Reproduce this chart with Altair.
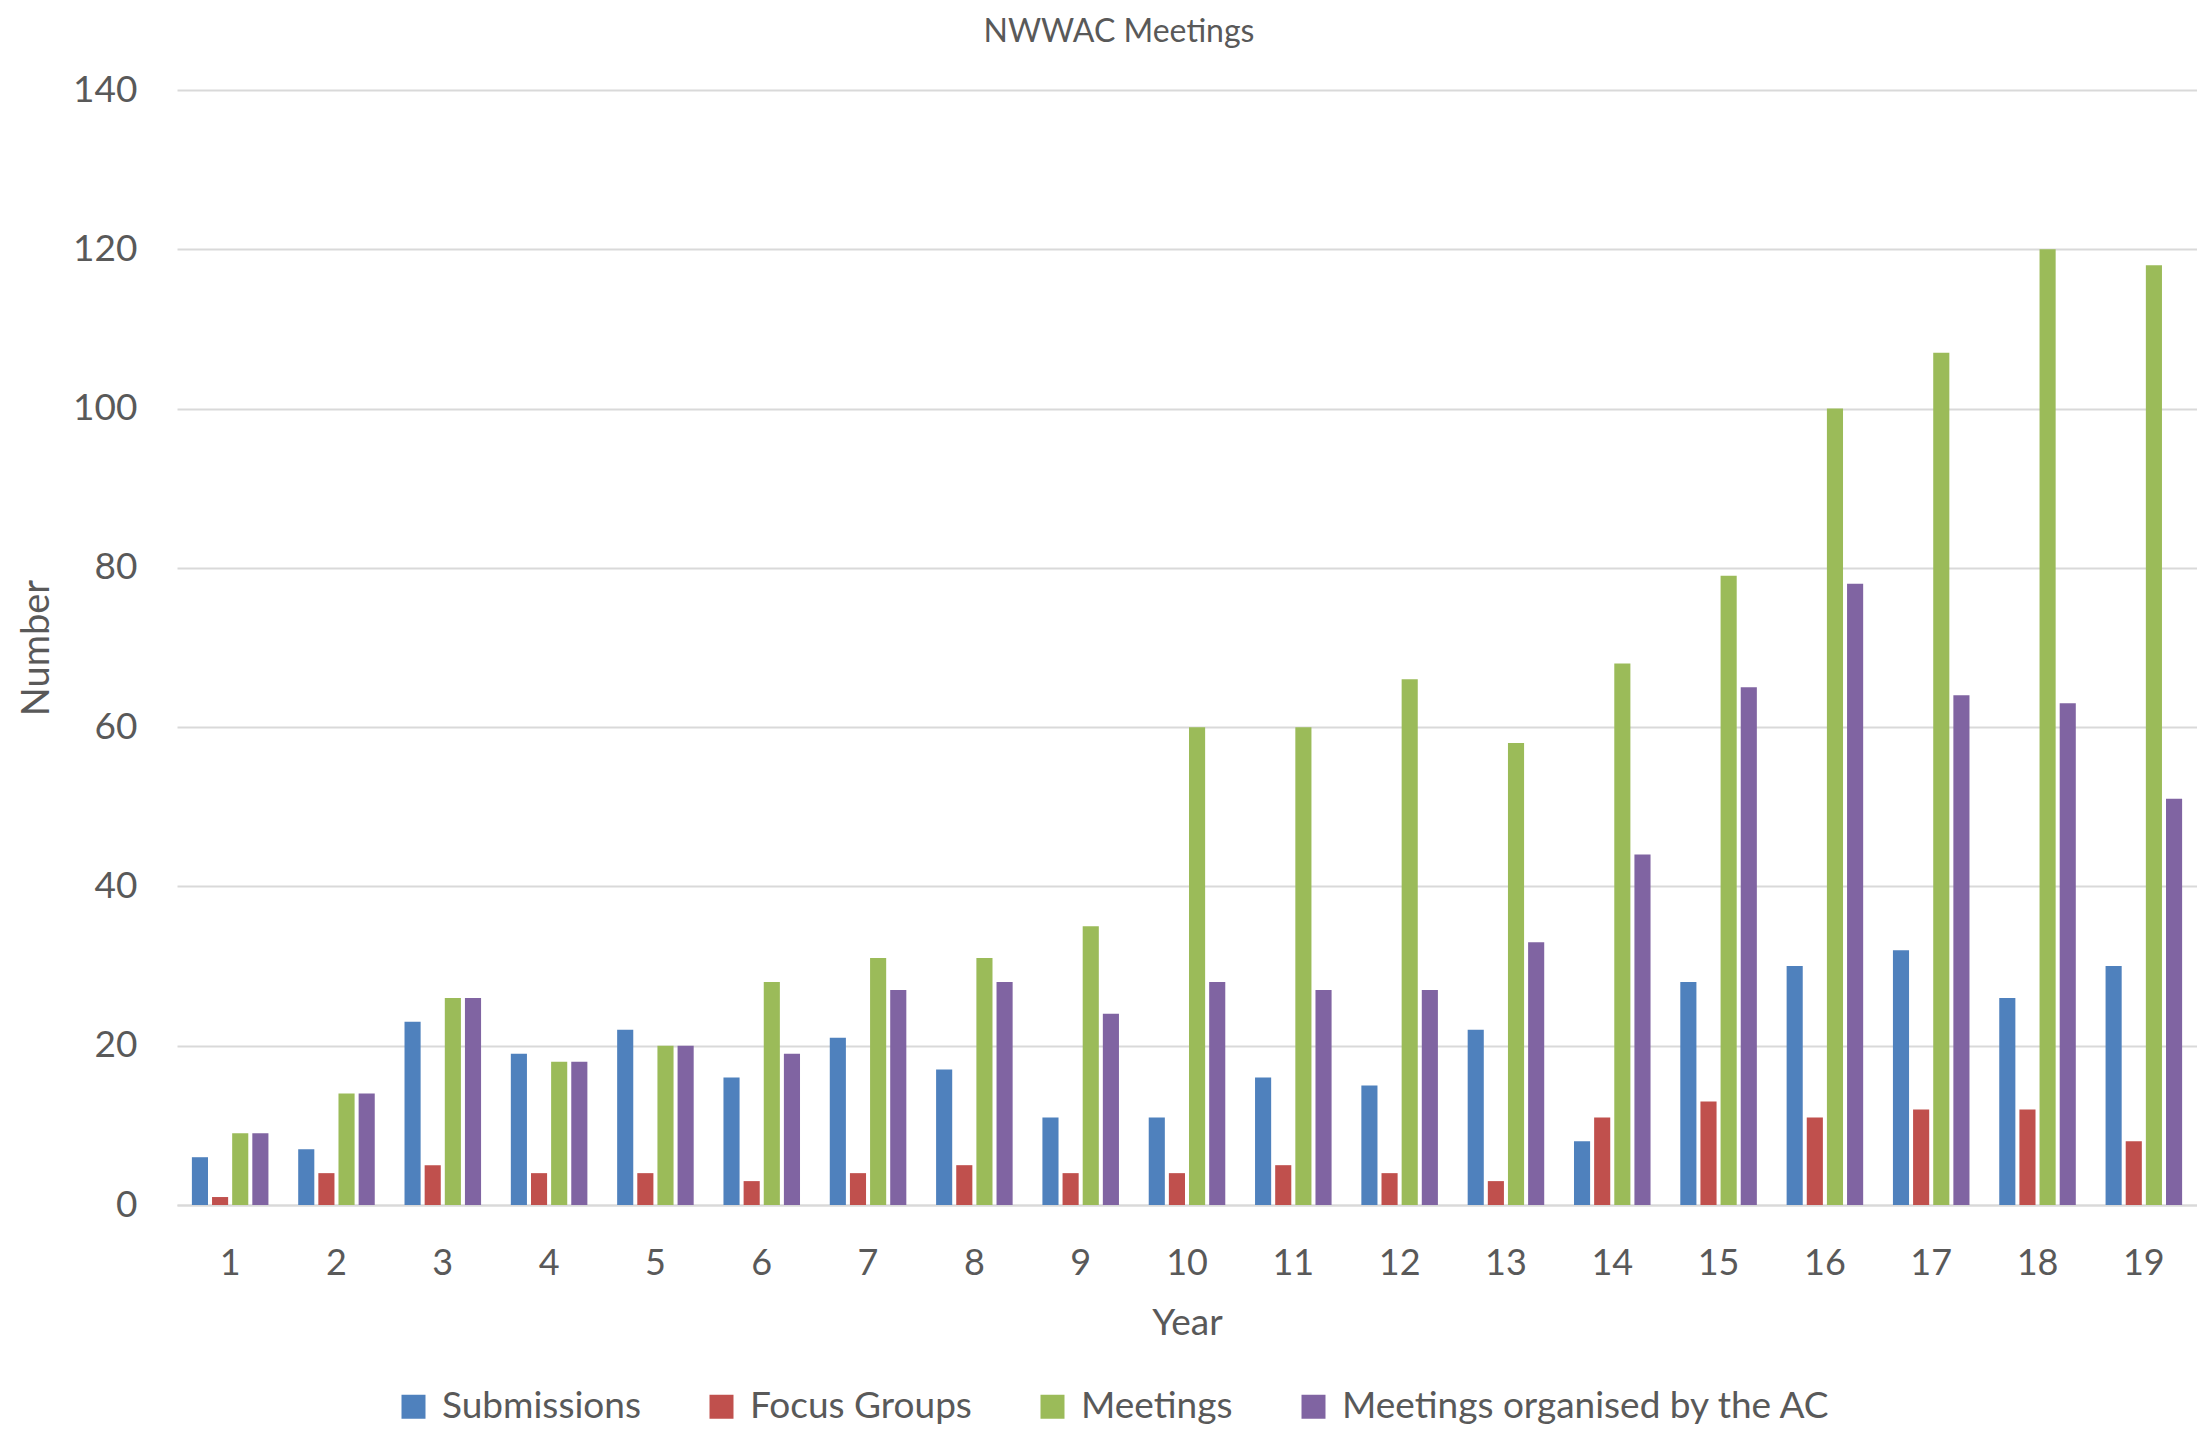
import altair as alt
import pandas as pd

years = [str(i) for i in range(1, 20)]
series = ["Submissions", "Focus Groups", "Meetings", "Meetings organised by the AC"]
submissions = [6, 7, 23, 19, 22, 16, 21, 17, 11, 11, 16, 15, 22, 8, 28, 30, 32, 26, 30]
focus_groups = [1, 4, 5, 4, 4, 3, 4, 5, 4, 4, 5, 4, 3, 11, 13, 11, 12, 12, 8]
meetings = [9, 14, 26, 18, 20, 28, 31, 31, 35, 60, 60, 66, 58, 68, 79, 100, 107, 120, 118]
meetings_ac = [9, 14, 26, 18, 20, 19, 27, 28, 24, 28, 27, 27, 33, 44, 65, 78, 64, 63, 51]
colors = ["#4F81BD", "#C0504D", "#9BBB59", "#8064A2"]

rows = []
for s, vals in zip(series, [submissions, focus_groups, meetings, meetings_ac]):
    for y, v in zip(years, vals):
        rows.append({"Year": y, "Series": s, "Number": v})
df = pd.DataFrame(rows)

FONT = "Lato"
GREY = "#595959"

chart = alt.Chart(df).mark_bar().encode(
    x=alt.X("Year:N", sort=years,
            scale=alt.Scale(paddingInner=0.28, paddingOuter=0.14),
            axis=alt.Axis(title="Year", labelAngle=0, ticks=False, domain=True,
                          domainColor="#D9D9D9", domainWidth=2,
                          labelPadding=41, titlePadding=24,
                          labelFontSize=36, titleFontSize=37,
                          labelColor=GREY, titleColor=GREY,
                          labelFont=FONT, titleFont=FONT, titleFontWeight="normal")),
    xOffset=alt.XOffset("Series:N", sort=series,
                        scale=alt.Scale(paddingInner=0.2, paddingOuter=0)),
    y=alt.Y("Number:Q",
            scale=alt.Scale(domain=[0, 140], nice=False),
            axis=alt.Axis(title="Number", values=[0, 20, 40, 60, 80, 100, 120, 140],
                          ticks=False, domain=False, grid=True,
                          gridColor="#D9D9D9", gridWidth=2,
                          labelPadding=40, titlePadding=16,
                          labelFontSize=37, titleFontSize=38,
                          labelColor=GREY, titleColor=GREY,
                          labelFont=FONT, titleFont=FONT, titleFontWeight="normal")),
    color=alt.Color("Series:N", sort=series,
                    scale=alt.Scale(domain=series, range=colors),
                    legend=alt.Legend(title=None, orient="none", direction="horizontal",
                                      legendX=218, legendY=1298, padding=0,
                                      symbolType="square", symbolSize=576,
                                      symbolStrokeWidth=0, labelLimit=0,
                                      labelFontSize=37, labelColor=GREY, labelFont=FONT,
                                      labelOffset=10, columnPadding=62)),
).properties(
    width=2020,
    height=1115,
    title=alt.TitleParams(text="NWWAC Meetings", anchor="middle", dx=-68,
                          fontSize=32, font=FONT, color=GREY, fontWeight="normal",
                          offset=22),
    autosize=alt.AutoSizeParams(type="none"),
    padding={"left": 169, "top": 82, "right": 0, "bottom": 222},
).configure_view(stroke=None)

chart.save("out.html", embed_options={"renderer": "svg", "actions": False})
